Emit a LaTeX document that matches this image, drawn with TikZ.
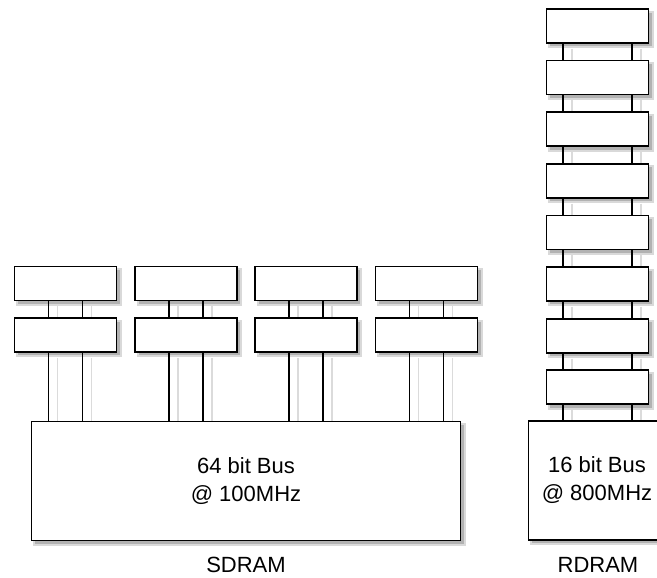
\documentclass[tikz,border=0pt]{standalone}
\usepackage{fontspec}
\setmainfont{Liberation Sans}
\usetikzlibrary{positioning}
\pgfdeclarelayer{back}
\pgfsetlayers{back,main}

\tikzset{
  chip/.style={draw, line width=1.8pt, fill=white, minimum width=102pt,
    minimum height=34pt, inner sep=0pt},
  bus/.style={chip, minimum height=119pt, align=center,
    font=\fontsize{22}{28}\selectfont},
  caption/.style={font=\fontsize{22}{28}\selectfont},
  shade/.style={fill=black!30, draw=black!15, line width=2pt},
  wire/.style={line width=1.8pt},
  ghost/.style={line width=1.8pt, black!14},
}
% shadow behind a node
\newcommand{\chipshadow}[1]{%
  \begin{pgfonlayer}{back}
    \path[shade] ([shift={(3.5,3.5)}]#1.north west) rectangle ([shift={(3.5,3.5)}]#1.south east);
  \end{pgfonlayer}}

\begin{document}
\begin{tikzpicture}[x=1pt, y=-1pt]
    \useasboundingbox (0,0) rectangle (657,578);

    % SDRAM
    \node[bus, minimum width=429pt] (sbus) at (246,481) {64 bit Bus\\@ 100MHz};
    \chipshadow{sbus}
    \node[caption] (slabel) at (246,565) {SDRAM};
    \foreach \i/\x in {1/65.5, 2/186, 3/306, 4/426.5} {
        \node[chip] (s\i b) at (\x,335) {};
        \node[chip] (s\i a) at (\x,283.5) {};
        \chipshadow{s\i a}
        \chipshadow{s\i b}
        \foreach \d in {-17,17} {
            \draw[ghost] ([xshift=\d pt+9pt, yshift=-5pt]s\i a.south) -- ([xshift=\d pt+9pt]s\i b.north);
            \draw[ghost] ([xshift=\d pt+9pt, yshift=-5pt]s\i b.south) -- ([xshift=\d pt+9pt]s\i b.south |- sbus.north);
            \draw[wire] ([xshift=\d pt]s\i a.south) -- ([xshift=\d pt]s\i b.north);
            \draw[wire] ([xshift=\d pt]s\i b.south) -- ([xshift=\d pt]s\i b.south |- sbus.north);
        }
    }

    % RDRAM
    \node[bus, minimum width=137pt] (rbus) at (597,480.5) {16 bit Bus\\@ 800MHz};
    \chipshadow{rbus}
    \node[caption] (rlabel) at (598,565) {RDRAM};
    \foreach \i in {1,...,8} {
        \node[chip] (r\i) at (597.5,{26+51.6*(\i-1)}) {};
        \chipshadow{r\i}
    }
    \foreach \i [evaluate=\i as \j using int(\i+1)] in {1,...,7} {
        \foreach \d in {-34.5,34.5} {
            \draw[ghost] ([xshift=\d pt+9pt, yshift=-5pt]r\i.south) -- ([xshift=\d pt+9pt]r\j.north);
            \draw[wire] ([xshift=\d pt]r\i.south) -- ([xshift=\d pt]r\j.north);
        }
    }
    \foreach \d in {-34.5,34.5} {
        \draw[ghost] ([xshift=\d pt+9pt, yshift=-5pt]r8.south) -- ([xshift=\d pt+9pt]r8.south |- rbus.north);
        \draw[wire] ([xshift=\d pt]r8.south) -- ([xshift=\d pt]r8.south |- rbus.north);
    }
\end{tikzpicture}
\end{document}
